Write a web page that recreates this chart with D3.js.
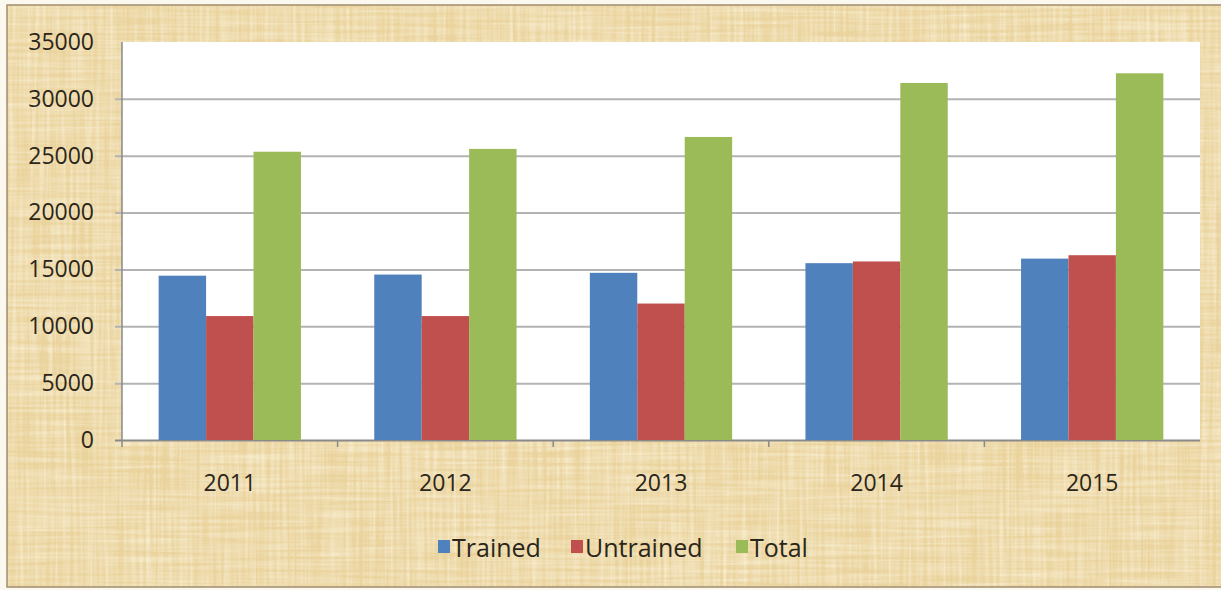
<!DOCTYPE html>
<html>
<head>
<meta charset="utf-8">
<script src="https://cdn.jsdelivr.net/npm/d3@7"></script>
<style>
  body { margin: 0; background: #fbf8f0; }
  text { font-family: "Open Sans", "Noto Sans", sans-serif; fill: #2b2619; }
</style>
</head>
<body>
<svg id="chart" width="1221" height="590"></svg>
<script>
// values
const years = ["2011", "2012", "2013", "2014", "2015"];
const trained = [14450, 14550, 14700, 15550, 15950];
const untrained = [10900, 10900, 12000, 15700, 16250];
const total = [25350, 25600, 26650, 31400, 32250];
const seriesNames = ["Trained", "Untrained", "Total"];
const seriesColors = ["#4f81bd", "#c0504d", "#9bbb59"];
const yTicks = [0, 5000, 10000, 15000, 20000, 25000, 30000, 35000];

const svg = d3.select("#chart");
const W = 1221, H = 590;

// parchment background
let defs = svg.append("defs");
let f = defs.append("filter").attr("id", "paper")
    .attr("x", 0).attr("y", 0).attr("width", "100%").attr("height", "100%");
f.append("feTurbulence").attr("type", "fractalNoise")
    .attr("baseFrequency", "0.3 0.01").attr("numOctaves", 2).attr("seed", 3).attr("result", "v");
f.append("feTurbulence").attr("type", "fractalNoise")
    .attr("baseFrequency", "0.01 0.3").attr("numOctaves", 2).attr("seed", 7).attr("result", "h");
f.append("feComposite").attr("in", "v").attr("in2", "h")
    .attr("operator", "arithmetic").attr("k2", 0.5).attr("k3", 0.5).attr("result", "n");
f.append("feColorMatrix").attr("in", "n").attr("type", "matrix")
    .attr("values", "0 0 0 0 0.97  0 0 0 0 0.90  0 0 0 0 0.70  1.8 0 0 0 -0.65")
    .attr("result", "tint");
f.append("feComposite").attr("in", "tint").attr("in2", "SourceGraphic").attr("operator", "over");

svg.append("rect")
    .attr("x", 7).attr("y", 5).attr("width", W).attr("height", 582)
    .attr("fill", "#ead39c")
    .attr("filter", "url(#paper)");
svg.append("rect")
    .attr("x", 7).attr("y", 5).attr("width", W).attr("height", 582)
    .attr("fill", "none").attr("stroke", "#a08c6c").attr("stroke-width", 1.5);

// plot area
const margin = {left: 122, right: 1200, top: 42, bottom: 440};

const x0 = d3.scaleBand().domain(years)
    .range([margin.left, margin.right]).paddingInner(0.34).paddingOuter(0.17);
const x1 = d3.scaleBand().domain(seriesNames).range([0, x0.bandwidth()]);
const y = d3.scaleLinear().domain([0, 35000]).range([margin.bottom, margin.top]);

svg.append("rect")
    .attr("x", margin.left).attr("y", margin.top)
    .attr("width", margin.right - margin.left).attr("height", margin.bottom - margin.top)
    .attr("fill", "#ffffff");

// gridlines + y axis
let yAxis = svg.append("g")
    .attr("transform", `translate(${margin.left},0)`)
    .call(d3.axisLeft(y).tickValues(yTicks).tickFormat(d3.format("d"))
        .tickSize(-(margin.right - margin.left)).tickPadding(28))
yAxis.select(".domain").remove();
yAxis.selectAll(".tick line")
    .attr("x1", -7)
    .attr("stroke", d => d == 0 ? "#8a8a8a" : "#b3b3b3")
    .attr("stroke-width", 2)
    .attr("display", d => d == 35000 ? "none" : null);
yAxis.selectAll(".tick text")
    .style("font-size", "23px").attr("fill", "#2b2619");

svg.append("line")
    .attr("x1", margin.left).attr("x2", margin.left)
    .attr("y1", margin.top).attr("y2", margin.bottom + 7)
    .attr("stroke", "#8a8a8a").attr("stroke-width", 1.5);

// bars
const rows = years.map((yr, i) => ({year: yr, values: [trained[i], untrained[i], total[i]]}));

let groups = svg.append("g").selectAll("g")
    .data(rows).enter()
    .append("g")
    .attr("transform", d => `translate(${x0(d.year)},0)`);

groups.selectAll("rect")
    .data(d => d.values.map((v, j) => ({name: seriesNames[j], value: v, color: seriesColors[j]})))
    .enter()
    .append("rect")
    .attr("x", d => x1(d.name))
    .attr("y", d => y(d.value))
    .attr("width", x1.bandwidth())
    .attr("height", d => y(0) - y(d.value))
    .attr("fill", d => d.color);

// category labels
svg.append("g").selectAll("text")
    .data(years).enter()
    .append("text")
    .attr("x", d => x0(d) + x0.bandwidth() / 2)
    .attr("y", 491)
    .attr("text-anchor", "middle")
    .style("font-size", "23px")
    .text(d => d);

// category ticks on the axis
svg.append("g").selectAll("line")
    .data(years.slice(1)).enter()
    .append("line")
    .attr("x1", d => x0(d) - x0.step() * x0.paddingInner() / 2)
    .attr("x2", d => x0(d) - x0.step() * x0.paddingInner() / 2)
    .attr("y1", margin.bottom).attr("y2", margin.bottom + 7)
    .attr("stroke", "#8a8a8a").attr("stroke-width", 1.5);

// legend
const legendX = [438, 571, 736];
let legend = svg.append("g").selectAll("g")
    .data(seriesNames).enter()
    .append("g")
    .attr("transform", (d, i) => `translate(${legendX[i]},548)`);
legend.append("rect")
    .attr("x", 0).attr("y", -8).attr("width", 12).attr("height", 13)
    .attr("fill", (d, i) => seriesColors[i]);
legend.append("text")
    .attr("x", 14).attr("y", 9)
    .style("font-size", "25px")
    .text(d => d);
</script>
</body>
</html>
